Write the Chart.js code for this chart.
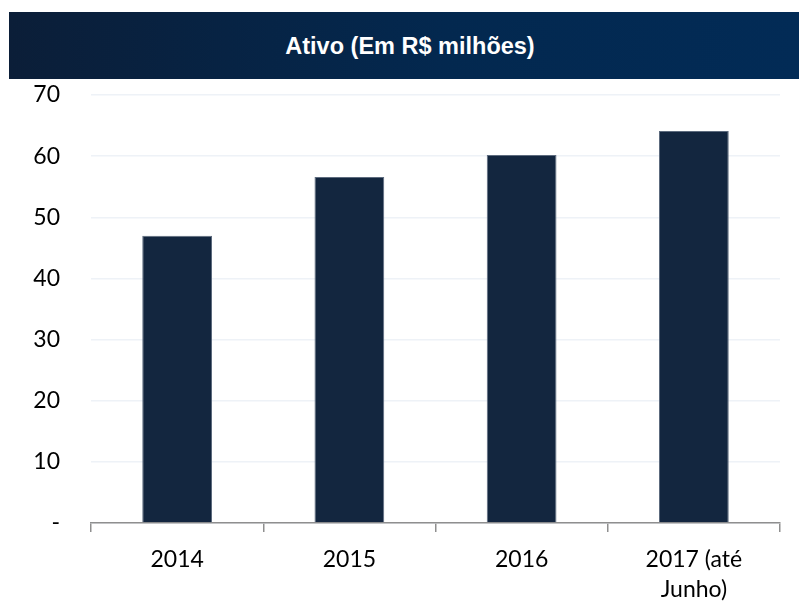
<!DOCTYPE html>
<html>
<head>
<meta charset="utf-8">
<script src="https://cdn.jsdelivr.net/npm/chart.js@4"></script>
<style>
  html, body { margin: 0; padding: 0; background: #ffffff; }
  #wrap { position: relative; width: 799px; height: 601px; overflow: hidden; }
  #titlebar {
    position: absolute; left: 9px; top: 12px; width: 790px; height: 67px;
    background: linear-gradient(90deg, #0b1e38 0%, #03284f 55%, #022b56 100%);
    color: #ffffff; font-family: "Liberation Sans", Arial, sans-serif; font-weight: bold;
    font-size: 23.5px; display: flex; align-items: center; justify-content: center;
    padding-left: 12px; padding-top: 2px; box-sizing: border-box;
  }
  canvas { position: absolute; left: 0; top: 0; }
</style>
</head>
<body>
<div id="wrap">
  <canvas id="c" width="799" height="601"></canvas>
  <div id="titlebar">Ativo (Em R$ milhões)</div>
</div>
<script>
const titleText = "Ativo (Em R$ milhões)";
const categories = ["2014", "2015", "2016", ["2017 (até", "Junho)"]];
const ativoValues = [47.0, 56.6, 60.2, 64.1];
const yTickValues = [0, 10, 20, 30, 40, 50, 60, 70];
const yTickLabels = ["-", "10", "20", "30", "40", "50", "60", "70"];

document.getElementById('titlebar').textContent = titleText;

new Chart(document.getElementById('c'), {
  type: 'bar',
  data: {
    labels: categories,
    datasets: [{
      label: titleText,
      data: ativoValues,
      backgroundColor: '#13263f',
      borderColor: '#5d6b7e',
      borderWidth: { left: 1, right: 1, top: 1, bottom: 0 },
      categoryPercentage: 1.0,
      barPercentage: 0.405
    }]
  },
  options: {
    responsive: false,
    animation: false,
    devicePixelRatio: 1,
    layout: { padding: { top: 95, right: 19, bottom: 0, left: 0 } },
    plugins: { legend: { display: false }, tooltip: { enabled: false }, title: { display: false } },
    scales: {
      x: {
        grid: { display: true, drawOnChartArea: false, drawTicks: true, tickLength: 9, color: '#8f8f8f', lineWidth: 1.5, offset: true },
        border: { display: true, color: '#8f8f8f', width: 1.5 },
        ticks: {
          color: '#000000', padding: 12,
          font: { family: 'Lato, "Open Sans", sans-serif', size: 23, lineHeight: 1.33 },
          maxRotation: 0, autoSkip: false
        },
        afterFit: (s) => { s.height = 78; }
      },
      y: {
        min: 0, max: 70,
        afterBuildTicks: (s) => { s.ticks = yTickValues.map(v => ({ value: v })); },
        grid: { color: '#eef2f7', lineWidth: 1.5, drawTicks: false },
        border: { display: false },
        ticks: {
          color: '#000000', padding: 31,
          font: { family: 'Lato, "Open Sans", sans-serif', size: 23 },
          callback: (v) => { const i = yTickValues.indexOf(v); return i >= 0 ? yTickLabels[i] : ''; }
        },
        afterFit: (s) => { s.width = 91; }
      }
    }
  }
});
</script>
</body>
</html>
